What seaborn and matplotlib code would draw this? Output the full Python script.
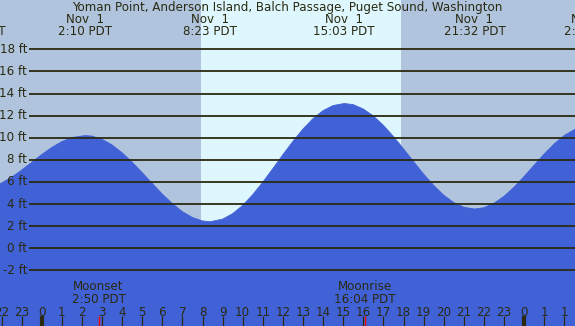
import matplotlib
matplotlib.use("Agg")
import matplotlib.pyplot as plt
import seaborn as sns

# tide curve (hours after midnight Nov 1, PDT ; feet)
hours = [-2.1, -1.5, -1.0, -0.5, 0.0, 0.5, 1.0, 1.5, 2.17, 2.5, 3.0, 3.5, 4.0, 4.5, 5.0,
         5.5, 6.0, 6.5, 7.0, 7.5, 8.0, 8.38, 9.0, 9.5, 10.0, 10.5, 11.0, 11.5, 12.0, 12.5,
         13.0, 13.5, 14.0, 14.5, 15.05, 15.5, 16.0, 16.5, 17.0, 17.5, 18.0, 18.5, 19.0,
         19.5, 20.0, 20.5, 21.0, 21.53, 22.0, 22.5, 23.0, 23.5, 24.0, 24.5, 25.0, 25.5,
         26.0, 26.6]
heights = [5.80, 6.42, 7.07, 7.77, 8.48, 9.12, 9.65, 10.02, 10.2, 10.15, 9.86, 9.35, 8.64,
           7.79, 6.84, 5.86, 4.90, 4.04, 3.31, 2.78, 2.47, 2.40, 2.63, 3.13, 3.88, 4.85,
           5.98, 7.21, 8.47, 9.68, 10.79, 11.74, 12.46, 12.92, 13.1, 13.0, 12.60, 11.97,
           11.12, 10.11, 8.99, 7.84, 6.71, 5.69, 4.80, 4.13, 3.71, 3.55, 3.67, 4.07, 4.70,
           5.53, 6.50, 7.52, 8.53, 9.45, 10.21, 10.84]

# high / low labels along the top
extreme_hours = [-3.32, 2.17, 8.38, 15.05, 21.53, 27.28]
extreme_dates = ["Oct 31", "Nov  1", "Nov  1", "Nov  1", "Nov  1", "Nov  2"]
extreme_times = ["20:41 PDT", "2:10 PDT", "8:23 PDT", "15:03 PDT", "21:32 PDT", "2:17 PST"]

sunrise, sunset = 7.93, 17.88
moon_hours = [2.83, 16.07]
moon_names = ["Moonset", "Moonrise"]
moon_times = ["2:50 PDT", "16:04 PDT"]

ft_levels = [18, 16, 14, 12, 10, 8, 6, 4, 2, 0, -2]
hour_ticks = list(range(-2, 27))
hour_labels = ["22", "23"] + [str(h) for h in range(24)] + ["0", "1", "1"]
midnights = [0, 24]

title = "Yoman Point, Anderson Island, Balch Passage, Puget Sound, Washington"

night_c = "#b0c4de"
day_c = "#def7ff"
water_c = "#4161d7"
ink = "#2a2a10"
fs = 8.6

fig = plt.figure(figsize=(5.75, 3.26), dpi=100)
ax = fig.add_axes([0, 0, 1, 1])
x0, x1 = -2.075, 26.53
y0, y1 = -7.04, 22.47
ax.set_xlim(x0, x1)
ax.set_ylim(y0, y1)
ax.set_axis_off()

ax.axvspan(x0, sunrise, color=night_c, lw=0, zorder=0)
ax.axvspan(sunrise, sunset, color=day_c, lw=0, zorder=0)
ax.axvspan(sunset, x1, color=night_c, lw=0, zorder=0)

ax.fill_between(hours, heights, y0, color=water_c, lw=0, zorder=1)
sns.lineplot(x=hours, y=heights, ax=ax, color=water_c, lw=0.6, estimator=None, zorder=1)

# ft grid
ax.hlines(ft_levels, -0.63, x1, color=ink, lw=1.3, zorder=2)
for lv in ft_levels:
    ax.text(-0.73, lv, f"{lv} ft", ha="right", va="center", fontsize=fs, color=ink)

# top labels
fig.text(0.5, 0.978, title, ha="center", va="center", fontsize=fs, color=ink)
for h, d, t in zip(extreme_hours, extreme_dates, extreme_times):
    ax.text(h, 20.75, d, ha="center", va="center", fontsize=fs, color=ink)
    ax.text(h, 19.66, t, ha="center", va="center", fontsize=fs, color=ink)

# moon
for h, n, t in zip(moon_hours, moon_names, moon_times):
    ax.text(h, -3.5, n, ha="center", va="center", fontsize=fs, color=ink)
    ax.text(h, -4.6, t, ha="center", va="center", fontsize=fs, color=ink)
    ax.vlines(h, -7.04, -6.13, color="red", lw=1.0, zorder=3)

# hour axis
for h, lab in zip(hour_ticks, hour_labels):
    ax.text(h, -5.78, lab, ha="center", va="center", fontsize=fs, color=ink)
    ax.vlines(h, -7.04, -6.13, color=ink, lw=3.0 if h in midnights else 0.9, zorder=3)

fig.savefig("out.png", dpi=100)
